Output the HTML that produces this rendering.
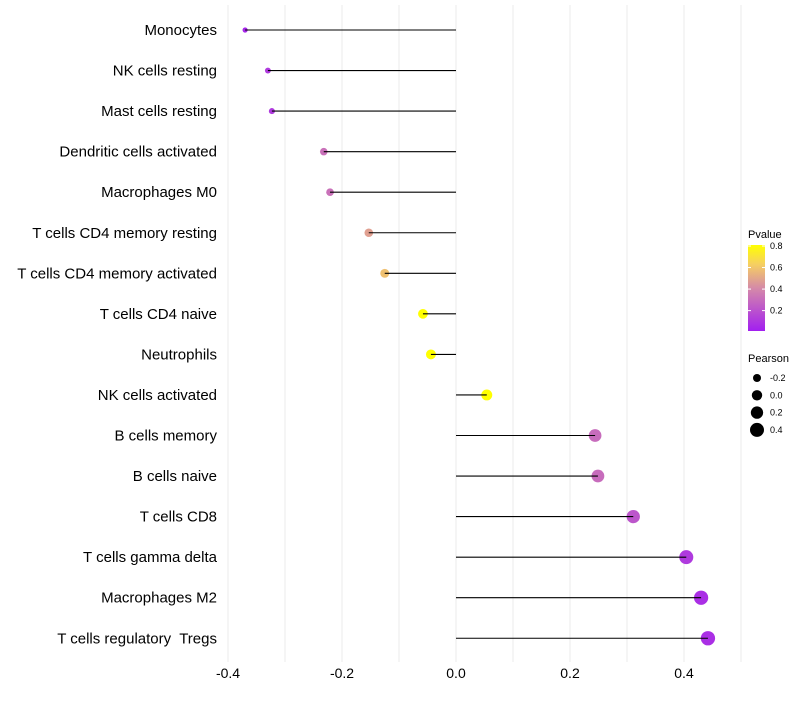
<!DOCTYPE html>
<html><head><meta charset="utf-8"><style>
body{margin:0;background:#fff;font-family:"Liberation Sans",sans-serif}
text{white-space:pre}
</style></head><body>
<svg id="chart" width="800" height="700" xmlns="http://www.w3.org/2000/svg" font-family="Liberation Sans, sans-serif">
<defs><linearGradient id="pg" x1="0" y1="1" x2="0" y2="0">
<stop offset="0" stop-color="#a21ff0"/><stop offset="0.5" stop-color="#d58aa8"/><stop offset="0.78" stop-color="#f6d060"/><stop offset="1" stop-color="#ffff00"/></linearGradient></defs>
<g id="grid"></g>
<g id="marks"></g>
<g id="ylab"></g>
<g id="xlab"></g>
<g>
<text x="748" y="238" font-size="11">Pvalue</text>
<rect x="748" y="245" width="17" height="86" fill="url(#pg)"/>
<g id="cbticks"></g>
</g>
<g>
<text x="748" y="362" font-size="11">Pearson</text>
<g id="sizeleg"></g>
</g>
</svg>
<script>
const categories=["Monocytes","NK cells resting","Mast cells resting","Dendritic cells activated","Macrophages M0","T cells CD4 memory resting","T cells CD4 memory activated","T cells CD4 naive","Neutrophils","NK cells activated","B cells memory","B cells naive","T cells CD8","T cells gamma delta","Macrophages M2","T cells regulatory  Tregs"];
const pearson=[-0.370,-0.330,-0.323,-0.232,-0.221,-0.153,-0.125,-0.058,-0.044,0.054,0.244,0.249,0.311,0.404,0.430,0.442];
const pvalues=[0.05,0.12,0.12,0.32,0.32,0.48,0.58,0.82,0.82,0.80,0.30,0.30,0.22,0.12,0.08,0.08];
const xTicks=[-0.4,-0.2,0.0,0.2,0.4];
const xTickLabels=["-0.4","-0.2","0.0","0.2","0.4"];
const cbTicks=[0.2,0.4,0.6,0.8];
const sizeLegend=[-0.2,0.0,0.2,0.4];
const sizeLegendLabels=["-0.2","0.0","0.2","0.4"];

const NS="http://www.w3.org/2000/svg";
const xs=v=>456+v*570;
const ys=i=>30+i*40.55;
const rs=v=>Math.sqrt(Math.max(4,27+55*v));
const cbY=p=>330-(p-0.02)*(84/0.78);
function lerp(a,b,t){return a.map((x,i)=>Math.round(x+(b[i]-x)*t));}
function pcol(p){const stops=[[0.02,[162,31,240]],[0.41,[213,138,168]],[0.63,[246,208,96]],[0.8,[255,255,0]]];
 if(p<=stops[0][0])return"rgb("+stops[0][1]+")";
 for(let k=1;k<stops.length;k++){if(p<=stops[k][0]){const t=(p-stops[k-1][0])/(stops[k][0]-stops[k-1][0]);return"rgb("+lerp(stops[k-1][1],stops[k][1],t)+")";}}
 return"rgb(255,255,0)";}
function mk(t,a,parent){const e=document.createElementNS(NS,t);for(const k in a)e.setAttribute(k,a[k]);document.getElementById(parent).appendChild(e);return e;}

for(let v=-0.4;v<=0.501;v+=0.1){const g=mk("line",{x1:xs(v),x2:xs(v),y1:5,y2:662,stroke:"#ebebeb","stroke-width":1},"grid");

}
xTicks.forEach((v,i)=>{const t=mk("text",{x:xs(v),y:678,"font-size":14,"text-anchor":"middle",fill:"#000"},"xlab");t.textContent=xTickLabels[i];

});
categories.forEach((c,i)=>{
 const y=ys(i);
 const t=mk("text",{x:217,y:y+5,"font-size":15,"text-anchor":"end",fill:"#000"},"ylab");t.textContent=c;
 
 
 const d=mk("circle",{cx:xs(pearson[i]),cy:y,r:rs(pearson[i]),fill:pcol(pvalues[i])},"marks");
 
 
 const l=mk("line",{x1:xs(0),x2:xs(pearson[i]),y1:y,y2:y,stroke:"#000","stroke-width":1.1},"marks");
 
 
});
cbTicks.forEach(p=>{const y=cbY(p);
 const a=mk("line",{x1:748,x2:751,y1:y,y2:y,stroke:"#fff"},"cbticks");
 const b=mk("line",{x1:762,x2:765,y1:y,y2:y,stroke:"#fff"},"cbticks");
 const t=mk("text",{x:770,y:y+3,"font-size":9,fill:"#000"},"cbticks");t.textContent=p.toFixed(1);
 
 });
sizeLegend.forEach((v,i)=>{const y=378+i*17.3;
 const c=mk("circle",{cx:757,cy:y,r:rs(v),fill:"#000"},"sizeleg");
 
 
 const t=mk("text",{x:770,y:y+3,"font-size":9,fill:"#000"},"sizeleg");t.textContent=sizeLegendLabels[i];
 
 });
</script>
</body></html>
